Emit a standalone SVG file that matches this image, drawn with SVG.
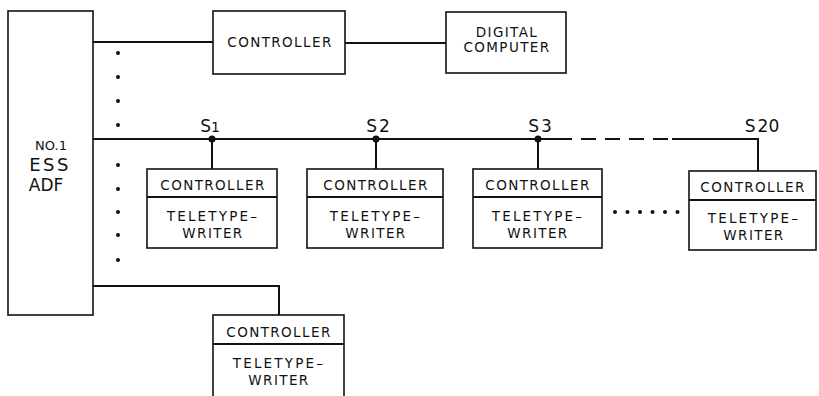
<svg xmlns="http://www.w3.org/2000/svg" width="819" height="396" viewBox="0 0 819 396">
<style>
.box{fill:#fff;stroke:#111;stroke-width:1.6}
.ln{fill:none;stroke:#111;stroke-width:2}
.t{font-family:"DejaVu Sans","Liberation Sans",sans-serif;fill:#111;text-anchor:middle}
.s{font-size:13.5px;letter-spacing:1.4px}
.w{letter-spacing:2.2px}
.lb{font-size:17px}
.dot{fill:#111}
</style>
<rect width="819" height="396" fill="#fff"/>
<g id="connectors">
<path class="ln" d="M93 42H213M345 43H446"/>
<path class="ln" d="M93 139H557"/>
<path class="ln" d="M557 139H672" stroke-dasharray="15 9"/>
<path class="ln" d="M672 139H758V171"/>
<path class="ln" d="M212 139V169M376 139V169M538 139V169"/>
<path class="ln" d="M93 286H279V315"/>
<circle class="dot" cx="212" cy="139" r="3.5"/>
<circle class="dot" cx="376" cy="139" r="3.5"/>
<circle class="dot" cx="538" cy="139" r="3.5"/>
<g id="ellipsis-v">
<circle class="dot" cx="118" cy="53" r="2"/>
<circle class="dot" cx="118" cy="77" r="2"/>
<circle class="dot" cx="118" cy="101" r="2"/>
<circle class="dot" cx="118" cy="125" r="2"/>
<circle class="dot" cx="118" cy="165" r="2"/>
<circle class="dot" cx="118" cy="189" r="2"/>
<circle class="dot" cx="118" cy="212" r="2"/>
<circle class="dot" cx="118" cy="235" r="2"/>
<circle class="dot" cx="118" cy="260" r="2"/>
</g>
<g id="ellipsis-h">
<circle class="dot" cx="615" cy="212" r="2"/>
<circle class="dot" cx="627.5" cy="212" r="2"/>
<circle class="dot" cx="640" cy="212" r="2"/>
<circle class="dot" cx="652.5" cy="212" r="2"/>
<circle class="dot" cx="665" cy="212" r="2"/>
<circle class="dot" cx="677.5" cy="212" r="2"/>
</g>
<text class="t lb" x="210" y="132">S<tspan font-size="14">1</tspan></text>
<text class="t lb" x="378" y="132">S<tspan dx="2">2</tspan></text>
<text class="t lb" x="540" y="132">S<tspan dx="2">3</tspan></text>
<text class="t lb" x="762" y="132">S<tspan dx="2">20</tspan></text>
</g>
<g id="adf">
<rect class="box" x="8" y="11" width="85" height="304"/>
<text class="t" x="51" y="150" font-size="13">NO.1</text>
<text class="t" x="50" y="171" font-size="18" letter-spacing="2.5">ESS</text>
<text class="t" x="46" y="191" font-size="17">ADF</text>
</g>
<g id="ctrl-top">
<rect class="box" x="213" y="11" width="132" height="63"/>
<text class="t s" x="280" y="47">CONTROLLER</text>
</g>
<g id="computer">
<rect class="box" x="446" y="12" width="120" height="61"/>
<text class="t s" x="507" y="37">DIGITAL</text>
<text class="t s" x="507" y="52">COMPUTER</text>
</g>
<g id="tty1">
<rect class="box" x="147" y="169" width="130" height="79"/>
<path class="ln" stroke-width="1.4" d="M147 197H277"/>
<text class="t s" x="213" y="190">CONTROLLER</text>
<text class="t s w" x="213" y="221">TELETYPE–</text>
<text class="t s" x="213" y="238">WRITER</text>
</g>
<g id="tty2">
<rect class="box" x="307" y="169" width="136" height="79"/>
<path class="ln" stroke-width="1.4" d="M307 197H443"/>
<text class="t s" x="376" y="190">CONTROLLER</text>
<text class="t s w" x="376" y="221">TELETYPE–</text>
<text class="t s" x="376" y="238">WRITER</text>
</g>
<g id="tty3">
<rect class="box" x="473" y="169" width="129" height="79"/>
<path class="ln" stroke-width="1.4" d="M473 197H602"/>
<text class="t s" x="538" y="190">CONTROLLER</text>
<text class="t s w" x="538" y="221">TELETYPE–</text>
<text class="t s" x="538" y="238">WRITER</text>
</g>
<g id="tty20">
<rect class="box" x="689" y="171" width="127" height="79"/>
<path class="ln" stroke-width="1.4" d="M689 200H816"/>
<text class="t s" x="753" y="192">CONTROLLER</text>
<text class="t s w" x="754" y="223">TELETYPE–</text>
<text class="t s" x="754" y="240">WRITER</text>
</g>
<g id="tty-bottom">
<rect class="box" x="213" y="315" width="131" height="90"/>
<path class="ln" stroke-width="1.4" d="M213 344H344"/>
<text class="t s" x="279" y="337">CONTROLLER</text>
<text class="t s w" x="279" y="368">TELETYPE–</text>
<text class="t s" x="279" y="385">WRITER</text>
</g>
</svg>
